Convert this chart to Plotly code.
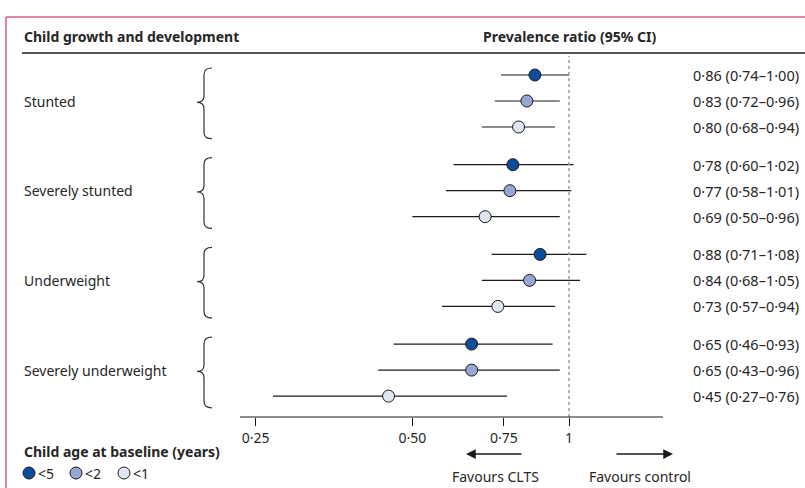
import math
import plotly.graph_objects as go

# ---- data ----
outcomes = ["Stunted", "Severely stunted", "Underweight", "Severely underweight"]
age_groups = ["<5", "<2", "<1"]
pr = [[0.86, 0.83, 0.80],
      [0.78, 0.77, 0.69],
      [0.88, 0.84, 0.73],
      [0.65, 0.65, 0.45]]
ci_low = [[0.74, 0.72, 0.68],
          [0.60, 0.58, 0.50],
          [0.71, 0.68, 0.57],
          [0.46, 0.43, 0.27]]
ci_high = [[1.00, 0.96, 0.94],
           [1.02, 1.01, 0.96],
           [1.08, 1.05, 0.94],
           [0.93, 0.96, 0.76]]
tick_vals = [0.25, 0.50, 0.75, 1]
tick_text = ["0·25", "0·50", "0·75", "1"]

# ---- style ----
colors = ["#0b4d9b", "#97a7d4", "#dfe5f2"]
FONT = "Noto Sans"
TXT = "#262626"
FS = 14
W, H = 805, 488
MB = 71
PH = H - MB          # plot height in px
GROUP_STEP = 3.45
ROW_PX = 26.0
Y0_PX = 75.0

def pos(g, i):
    return g * GROUP_STEP + i

def ypaper(py):
    return (PH - py) / PH

def fmt(v):
    return f"{v:.2f}".replace(".", "·")

fig = go.Figure()

for g in range(len(outcomes)):
    for i in range(len(age_groups)):
        y = pos(g, i)
        fig.add_trace(go.Scatter(
            x=[ci_low[g][i], ci_high[g][i]], y=[y, y], mode="lines",
            line=dict(color="#1a1a1a", width=1.2), showlegend=False, hoverinfo="skip"))

for i, ag in enumerate(age_groups):
    xs = [pr[g][i] for g in range(len(outcomes))]
    ys = [pos(g, i) for g in range(len(outcomes))]
    fig.add_trace(go.Scatter(
        x=xs, y=ys, mode="markers", name=ag,
        marker=dict(size=12, color=colors[i], line=dict(color="#1a1a1a", width=1)),
        showlegend=False))

shapes = []
annotations = []

# frame (pink)
shapes.append(dict(type="line", xref="paper", yref="paper", x0=6/W, x1=1, y0=ypaper(17), y1=ypaper(17),
                   line=dict(color="#d4607f", width=1.5)))
shapes.append(dict(type="line", xref="paper", yref="paper", x0=6/W, x1=6/W, y0=ypaper(17), y1=ypaper(H),
                   line=dict(color="#d4607f", width=1.5)))
# header rule
shapes.append(dict(type="line", xref="paper", yref="paper", x0=22/W, x1=1, y0=ypaper(53), y1=ypaper(53),
                   line=dict(color="#555555", width=2)))
# reference line at 1
shapes.append(dict(type="line", xref="x", yref="paper", x0=1, x1=1, y0=0, y1=ypaper(56),
                   line=dict(color="#8aa0ae", width=1.5, dash="3px,3px")))
# axis line
shapes.append(dict(type="line", xref="paper", yref="paper", x0=240/W, x1=663/W, y0=0, y1=0,
                   line=dict(color="#1a1a1a", width=1.2)))

# headers
annotations.append(dict(xref="paper", yref="paper", x=22/W, y=ypaper(36), xanchor="left", yanchor="middle",
                        text="<b>Child growth and development</b>", showarrow=False,
                        font=dict(family=FONT, size=FS, color=TXT)))
annotations.append(dict(xref="x", yref="paper", x=0, y=ypaper(36), xanchor="center", yanchor="middle",
                        text="<b>Prevalence ratio (95% CI)</b>", showarrow=False,
                        font=dict(family=FONT, size=FS, color=TXT)))

# group labels and braces
for g, name in enumerate(outcomes):
    annotations.append(dict(xref="paper", yref="y", x=22/W, y=pos(g, 1), xanchor="left", yanchor="middle",
                            text=name, showarrow=False, font=dict(family=FONT, size=FS, color=TXT)))
    top = pos(g, 0) - 0.27
    bot = pos(g, 2) + 0.45
    mid = pos(g, 1) + 0.05
    xr, xm, xl = 212/W, 204/W, 197/W
    r = 0.25
    path = (f"M {xr},{top} Q {xm},{top} {xm},{top + r} L {xm},{mid - r} "
            f"Q {xm},{mid} {xl},{mid} Q {xm},{mid} {xm},{mid + r} "
            f"L {xm},{bot - r} Q {xm},{bot} {xr},{bot}")
    shapes.append(dict(type="path", xref="paper", yref="y", path=path,
                       line=dict(color="#333", width=1.2)))
    for i in range(len(age_groups)):
        txt = f"{fmt(pr[g][i])} ({fmt(ci_low[g][i])}–{fmt(ci_high[g][i])})"
        annotations.append(dict(xref="paper", yref="y", x=691/W, y=pos(g, i), xanchor="left", yanchor="middle",
                                text=txt, showarrow=False, font=dict(family=FONT, size=14.5, color=TXT)))

# favours arrows
annotations.append(dict(xref="paper", yref="paper", x=466/W, y=ypaper(454), ax=57, ay=0,
                        text="", showarrow=True,
                        arrowhead=2, arrowsize=1.3, arrowwidth=1.5, arrowcolor="#1a1a1a"))
annotations.append(dict(xref="paper", yref="paper", x=673/W, y=ypaper(454), ax=-58, ay=0,
                        text="", showarrow=True,
                        arrowhead=2, arrowsize=1.3, arrowwidth=1.5, arrowcolor="#1a1a1a"))
annotations.append(dict(xref="paper", yref="paper", x=496/W, y=ypaper(476), xanchor="center", yanchor="middle",
                        text="Favours CLTS", showarrow=False, font=dict(family=FONT, size=FS, color=TXT)))
annotations.append(dict(xref="paper", yref="paper", x=640/W, y=ypaper(476), xanchor="center", yanchor="middle",
                        text="Favours control", showarrow=False, font=dict(family=FONT, size=FS, color=TXT)))

# legend (custom)
annotations.append(dict(xref="paper", yref="paper", x=22/W, y=ypaper(452), xanchor="left", yanchor="middle",
                        text="<b>Child age at baseline (years)</b>", showarrow=False,
                        font=dict(family=FONT, size=FS, color=TXT)))
leg_x = [29, 76, 124]
for i, ag in enumerate(age_groups):
    shapes.append(dict(type="circle", xref="paper", yref="paper", xsizemode="pixel", ysizemode="pixel",
                       xanchor=leg_x[i]/W, yanchor=ypaper(473), x0=-6, x1=6, y0=-6, y1=6,
                       fillcolor=colors[i], line=dict(color="#1a1a1a", width=1)))
    annotations.append(dict(xref="paper", yref="paper", x=(leg_x[i] + 7)/W, y=ypaper(473), xanchor="left",
                            yanchor="middle", text=ag, showarrow=False,
                            font=dict(family=FONT, size=FS, color=TXT)))

fig.update_layout(
    width=W, height=H,
    margin=dict(l=0, r=0, t=0, b=MB),
    paper_bgcolor="white", plot_bgcolor="white",
    shapes=shapes, annotations=annotations,
    xaxis=dict(type="log",
               range=[(-569/226)/math.log(10), ((W-569)/226)/math.log(10)],
               tickvals=tick_vals, ticktext=tick_text, ticks="outside", ticklen=8, tickwidth=1.2,
               tickcolor="#1a1a1a", showgrid=False, zeroline=False, showline=False,
               tickfont=dict(family=FONT, size=FS, color=TXT)),
    yaxis=dict(range=[(PH - Y0_PX)/ROW_PX, -Y0_PX/ROW_PX], showgrid=False, zeroline=False,
               showticklabels=False, showline=False),
    showlegend=False,
)

fig.write_html("out.html", config={"displayModeBar": False},
               post_script="document.body.style.margin='0';document.body.style.overflow='hidden';")
